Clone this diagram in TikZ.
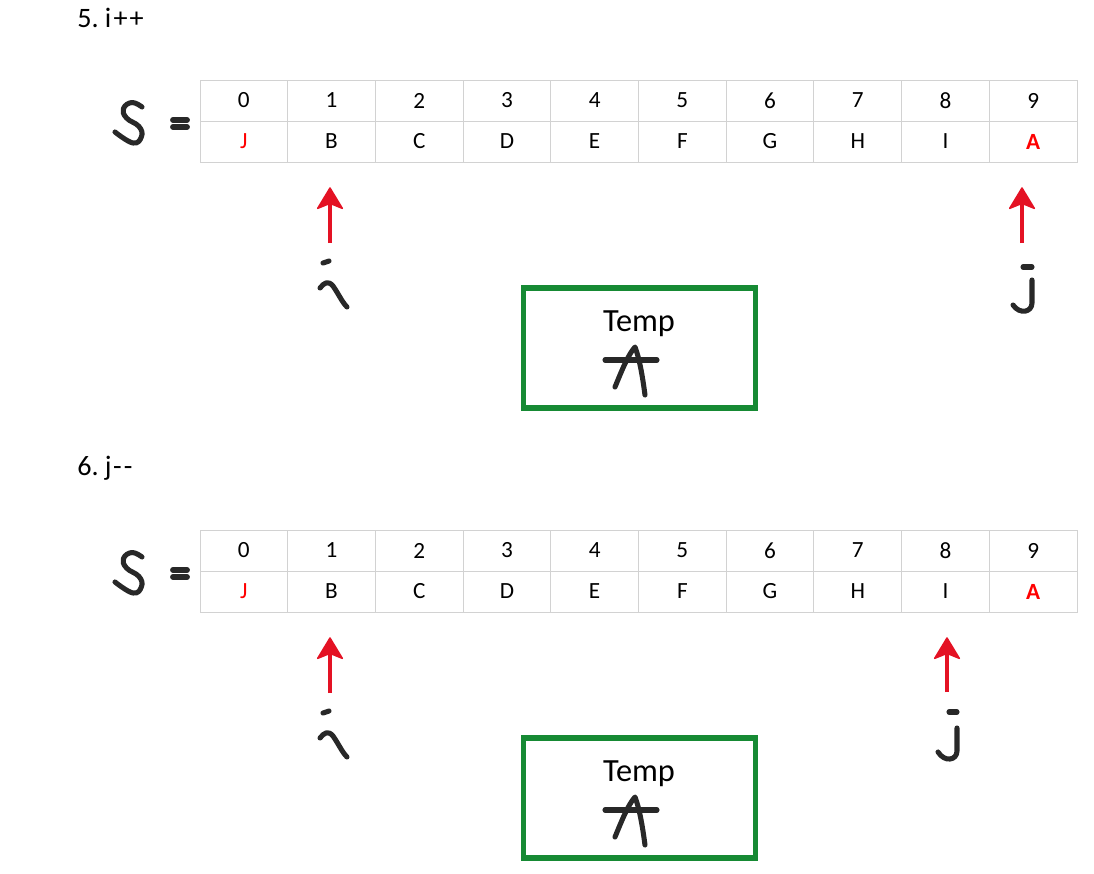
\documentclass[tikz,border=0pt]{standalone}
\usepackage{fontspec}
\setmainfont{Carlito}
\usepackage{xcolor}
\usetikzlibrary{arrows.meta}
\usetikzlibrary{calc}

\definecolor{gridgray}{RGB}{210,210,210}
\definecolor{ptrred}{RGB}{228,18,36}
\definecolor{boxgreen}{RGB}{22,138,52}
\definecolor{ink}{RGB}{40,40,40}

\begin{document}
\begin{tikzpicture}[x=0.025cm,y=-0.025cm,
  cell/.style={draw=gridgray,line width=0.6pt,minimum width=2.1925cm,minimum height=1.025cm,inner sep=0pt,font=\fontsize{16.5}{18}\selectfont},
  ptr/.style={ptrred,line width=2.9pt,-{Stealth[length=0.58cm,width=0.7cm,inset=0.14cm,line width=1pt,round]},shorten >=0.62cm},
  hand/.style={ink,line width=3.6pt,line cap=round,line join=round},
  tempbox/.style={draw=boxgreen,line width=3.6pt,minimum width=5.8cm,minimum height=3cm,inner sep=0pt},
  title/.style={anchor=west,inner sep=0pt,font=\fontsize{20}{22}\selectfont}]
\useasboundingbox (0,0) rectangle (1094,874);
\foreach \b/\dy/\ttl in {5/0/{5.\ i\kern1.5pt+\kern1.5pt+},6/450/{6.\ j\kern1pt-\kern1.5pt-}} {
  \begin{scope}[yshift=-\dy*0.025cm]
  \node[title] (title\b) at (77,18) {\ttl};
  % array S
  \foreach \k/\ktext in {0/0,1/1,2/2,3/3,4/4,5/5,6/6,7/7,8/8,9/9}
     \node[cell] (idx\b-\k) at ({200+87.7*(\k+0.5)},100.5) {\ktext};
  \foreach \k/\ktext in {0/{\textcolor{red}{J}},1/B,2/C,3/D,4/E,5/F,6/G,7/H,8/I,9/{\textcolor{red}{\textbf{A}}}}
     \node[cell] (val\b-\k) at ({200+87.7*(\k+0.5)},141.5) {\ktext};
  % S =
  \draw[hand] plot[smooth,tension=0.75] coordinates {(142,107) (132,102.5) (123.5,108.5) (126.5,118) (139,126.5) (141.5,136.5) (133,143) (115,132)};
  \draw[hand,line width=4.2pt] (173,120) -- (187,120);
  \draw[hand,line width=4.2pt] (173,127) -- (187,127);
  % i
  \coordinate (ibase\b) at (330,243);
  \draw[ptr] (ibase\b) -- (ibase\b |- val\b-1.south);
  \draw[hand] (323,263) -- (329,261);
  \draw[hand] (320,288) .. controls (324,283) and (328,280) .. (333,286) .. controls (338,293) and (342,302) .. (347,307);
  % temp
  \node[tempbox] (temp\b) at (639.5,348) {};
  \node[font=\fontsize{23}{26}\selectfont,inner sep=0pt] (templbl\b) at (639,324) {Temp};
  \draw[hand] (605,360) -- (657,360);
  \draw[hand] (615,387) .. controls (622,370) and (628,355) .. (635,347) .. controls (640,360) and (643,380) .. (645,395);
  \end{scope}
}
% j in step 5
\coordinate (jbase5) at (1022,243);
\draw[ptr] (jbase5) -- (jbase5 |- val5-9.south);
\draw[hand] (1023,267) -- (1032,267);
\draw[hand] (1032,280) -- (1032,303) .. controls (1032,312) and (1020,315) .. (1013,305);
% j in step 6
\coordinate (jbase6) at (947,692);
\draw[ptr] (jbase6) -- (jbase6 |- val6-8.south);
\draw[hand] (949,712) -- (957,712);
\draw[hand] (957,728) -- (957,751) .. controls (957,760) and (945,763) .. (938,752);
\end{tikzpicture}
\end{document}
